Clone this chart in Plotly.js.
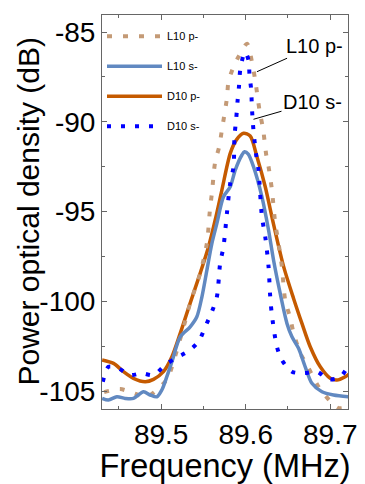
<!DOCTYPE html>
<html>
<head>
<meta charset="utf-8">
<script src="https://cdn.plot.ly/plotly-3.0.1.min.js"></script>
<style>html,body{margin:0;padding:0;background:#fff;}#chart{width:365px;height:484px;}</style>
</head>
<body>
<div id="chart"></div>
<script>
// L10 p- (tan dotted)
const l10pX = [89.4325, 89.4515, 89.4669, 89.4831, 89.5047, 89.5086, 89.5245, 89.5343, 89.5462, 89.5541, 89.5575, 89.5600, 89.5639, 89.5686, 89.5718, 89.5778, 89.5796, 89.5856, 89.5915, 89.6016, 89.6073, 89.6112, 89.6163, 89.6207, 89.6243, 89.6270, 89.6310, 89.6349, 89.6388, 89.6428, 89.6467, 89.6527, 89.6566, 89.6645, 89.6724, 89.6862, 89.6988, 89.7095, 89.7213];
const l10pY = [-105.06, -104.89, -105.11, -105.32, -104.48, -104.20, -101.77, -100.10, -98.43, -96.76, -95.0, -93.97, -92.23, -91.39, -90.46, -88.68, -87.77, -86.93, -86.38, -85.65, -86.65, -87.67, -89.35, -90.46, -91.85, -92.50, -93.80, -95.64, -96.75, -98.07, -99.93, -100.93, -101.77, -102.88, -103.55, -104.76, -105.50, -105.95, -105.89];
// L10 s- (steel blue solid)
const l10sX = [89.4302, 89.4376, 89.4476, 89.4574, 89.4672, 89.4791, 89.4870, 89.4949, 89.5008, 89.5067, 89.5127, 89.5225, 89.5343, 89.5422, 89.5482, 89.5541, 89.5600, 89.5659, 89.5737, 89.5817, 89.5876, 89.5955, 89.5986, 89.6030, 89.6092, 89.6192, 89.6270, 89.6329, 89.6408, 89.6488, 89.6547, 89.6625, 89.6704, 89.6783, 89.6902, 89.7039, 89.7217];
const l10sY = [-105.41, -105.50, -105.32, -105.41, -105.41, -105.04, -105.22, -105.32, -104.94, -104.20, -103.37, -101.98, -101.42, -100.86, -99.75, -98.26, -96.77, -95.66, -94.18, -93.62, -92.69, -91.85, -91.67, -91.80, -92.50, -94.18, -96.03, -97.70, -99.56, -101.23, -101.98, -102.62, -103.65, -104.57, -105.04, -105.22, -105.32];
// D10 p- (orange solid)
const d10pX = [89.4302, 89.4436, 89.4554, 89.4672, 89.4811, 89.4909, 89.5027, 89.5127, 89.5225, 89.5343, 89.5462, 89.5560, 89.5639, 89.5718, 89.5817, 89.5888, 89.5974, 89.6053, 89.6133, 89.6231, 89.6329, 89.6447, 89.6566, 89.6665, 89.6763, 89.6882, 89.7000, 89.7079, 89.7178, 89.7237];
const d10pY = [-103.27, -103.46, -103.92, -104.29, -104.48, -104.35, -103.92, -103.09, -101.79, -100.10, -98.43, -96.96, -95.47, -93.80, -91.76, -91.02, -90.64, -90.79, -91.95, -93.62, -95.70, -98.04, -99.84, -101.23, -102.53, -103.65, -104.29, -104.39, -104.20, -104.01];
// D10 s- (blue dotted)
const d10sX = [89.4310, 89.4376, 89.4495, 89.4633, 89.4772, 89.4909, 89.5047, 89.5166, 89.5311, 89.5441, 89.5521, 89.5600, 89.5659, 89.5698, 89.5737, 89.5778, 89.5817, 89.5856, 89.5867, 89.5888, 89.5903, 89.5920, 89.5935, 89.5974, 89.5994, 89.6033, 89.6045, 89.6065, 89.6073, 89.6085, 89.6101, 89.6124, 89.6151, 89.6192, 89.6231, 89.6270, 89.6290, 89.6310, 89.6369, 89.6428, 89.6547, 89.6692, 89.6843, 89.6980, 89.7118, 89.7217];
const d10sY = [-104.48, -103.65, -103.74, -104.11, -104.01, -104.11, -103.55, -103.18, -102.81, -102.25, -101.42, -100.58, -99.75, -97.87, -96.96, -95.08, -93.41, -92.50, -90.83, -89.81, -88.88, -88.05, -87.12, -86.28, -86.11, -86.56, -87.40, -88.23, -89.16, -90.09, -90.92, -91.85, -92.69, -95.29, -96.40, -98.07, -99.75, -100.77, -102.53, -103.27, -103.92, -104.00, -103.92, -104.35, -104.22, -103.55];

const seriesNames = ["L10 p-", "L10 s-", "D10 p-", "D10 s-"];
const xTickVals = [89.5, 89.6, 89.7];
const yTickVals = [-105, -100, -95, -90, -85];

const FONT = "Liberation Sans, Arial, sans-serif";

const traces = [
  {x: d10pX, y: d10pY, name: seriesNames[2], legendrank: 3, legendgroup: "c",
   mode: "lines", line: {color: "#c55a00", width: 3.5, shape: "spline", smoothing: 0.8}},
  {x: l10pX, y: l10pY, name: seriesNames[0], legendrank: 1, legendgroup: "a",
   mode: "lines", line: {color: "#c49a76", width: 4, dash: "5px,11px", shape: "spline", smoothing: 0.8}},
  {x: l10sX, y: l10sY, name: seriesNames[1], legendrank: 2, legendgroup: "b",
   mode: "lines", line: {color: "#6189c1", width: 3.5, shape: "spline", smoothing: 0.8}},
  {x: d10sX, y: d10sY, name: seriesNames[3], legendrank: 4, legendgroup: "d",
   mode: "lines", line: {color: "#0000ff", width: 4, dash: "4px,10px", shape: "spline", smoothing: 0.8}}
];

const axisCommon = {
  showgrid: false, zeroline: false, showline: true, linecolor: "#666", linewidth: 1,
  mirror: "allticks", ticks: "inside", ticklen: 5, tickcolor: "#666", tickwidth: 1,
  tickfont: {family: FONT, size: 28, color: "#000"}
};

const layout = {
  width: 365, height: 484,
  margin: {l: 102, r: 17, t: 15, b: 75},
  paper_bgcolor: "#fff", plot_bgcolor: "#fff",
  font: {family: FONT, color: "#000"},
  showlegend: true,
  legend: {x: 0.0, y: 0.983, xanchor: "left", yanchor: "top", bgcolor: "rgba(0,0,0,0)",
           font: {family: FONT, size: 11, color: "#000"}, itemwidth: 55,
           traceorder: "grouped", tracegroupgap: 11},
  xaxis: Object.assign({}, axisCommon, {
    range: [89.43, 89.721], tickvals: xTickVals, ticktext: xTickVals.map(v => v.toFixed(1)),
    minor: {dtick: 0.05, tick0: 89.5, ticks: "inside", ticklen: 3, tickcolor: "#666"},
    title: {text: "Frequency (MHz)", font: {family: FONT, size: 32.5, color: "#000"}, standoff: 4}
  }),
  yaxis: Object.assign({}, axisCommon, {
    range: [-106, -84.05], tickvals: yTickVals, ticktext: yTickVals.map(v => String(v)),
    minor: {dtick: 2.5, tick0: -85, ticks: "inside", ticklen: 3, tickcolor: "#666"}
  }),
  annotations: [
    {xref: "paper", yref: "paper", x: -0.298, y: 0.503, xanchor: "center", yanchor: "middle",
     text: "Power optical density (dB)", textangle: -90, showarrow: false,
     font: {family: FONT, size: 30, color: "#000"}},
    {x: 89.6133, y: -87.21, xref: "x", yref: "y", text: "L10 p-", showarrow: true,
     arrowhead: 0, arrowwidth: 1, arrowcolor: "#000", ax: 58, ay: -26,
     font: {family: FONT, size: 20, color: "#000"}},
    {x: 89.6092, y: -89.86, xref: "x", yref: "y", text: "D10 s-", showarrow: true,
     arrowhead: 0, arrowwidth: 1, arrowcolor: "#000", ax: 59, ay: -17,
     font: {family: FONT, size: 20, color: "#000"}}
  ]
};

Plotly.newPlot("chart", traces, layout, {displayModeBar: false, staticPlot: true});
</script>
</body>
</html>
